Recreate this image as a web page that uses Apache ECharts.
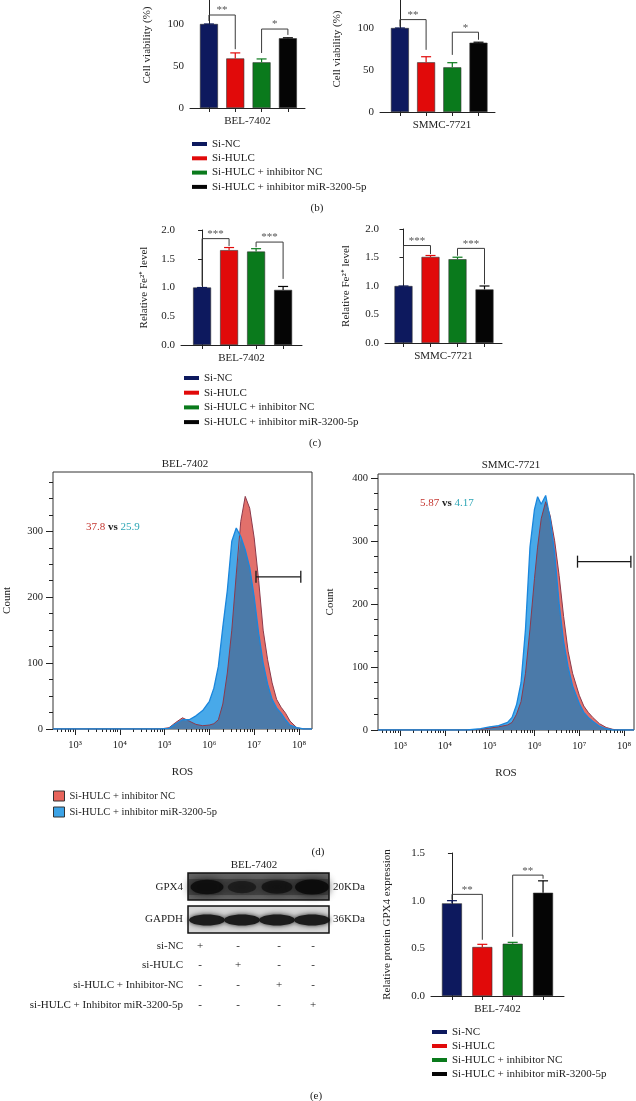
<!DOCTYPE html>
<html>
<head>
<meta charset="utf-8">
<script src="https://cdn.jsdelivr.net/npm/echarts@6/dist/echarts.min.js"></script>
<style>
html, body { margin: 0; padding: 0; background: #fff; overflow: hidden; }
#main { width: 636px; height: 1101px; }
</style>
</head>
<body>
<div id="main"></div>
<script>
var font = '"Liberation Serif", "Times New Roman", serif';
var ink = '#222';

// groups shared by the bar panels
var groups = ['Si-NC', 'Si-HULC', 'Si-HULC + inhibitor NC', 'Si-HULC + inhibitor miR-3200-5p'];
var groupColors = ['#0d195e', '#e10a0a', '#0a7a1c', '#050505'];

// (b) cell viability (%)
var viabBel = [100, 59, 54.4, 83];
var viabBelErr = [0, 6.6, 4, 0.6];
var viabSmmc = [100, 59.2, 53.2, 82.5];
var viabSmmcErr = [0, 6.6, 5.5, 0.6];
// brackets: [fromBar, toBar, leftEnd, top, rightEnd, stars]
var viabBelSig = [[0, 1, 103.6, 110.7, 70, '**'], [2, 3, 65.5, 94, 87, '*']];
var viabSmmcSig = [[0, 1, 101.5, 110, 74, '**'], [2, 3, 68, 95, 86, '*']];

// (c) relative Fe2+ level
var feBel = [1.0, 1.65, 1.625, 0.958];
var feBelErr = [0, 0.045, 0.05, 0.06];
var feSmmc = [1.0, 1.51, 1.47, 0.94];
var feSmmcErr = [0, 0.025, 0.035, 0.06];
var feBelSig = [[0, 1, 1.03, 1.85, 1.72, '***'], [2, 3, 1.7, 1.79, 1.15, '***']];
var feSmmcSig = [[0, 1, 1.04, 1.71, 1.56, '***'], [2, 3, 1.53, 1.66, 1.03, '***']];

// (d) ROS flow histograms, x = log10(ROS)
var rosLogBel = [2.51, 4.9, 5.1, 5.25, 5.4, 5.55, 5.7, 5.85, 6.0, 6.1, 6.2, 6.3, 6.4, 6.5, 6.6, 6.7, 6.8, 6.9, 7.0, 7.1, 7.2, 7.3, 7.4, 7.5, 7.6, 7.7, 7.8, 7.95, 8.1, 8.29];
var countBelNC = [0, 0, 2, 10, 17, 12, 7, 5, 6, 8, 14, 38, 85, 150, 235, 315, 353, 335, 290, 225, 150, 105, 70, 45, 33, 24, 12, 2, 0, 0];
var countBelMiR = [0, 0, 1, 8, 14, 14, 20, 28, 42, 62, 95, 155, 210, 285, 305, 292, 272, 245, 200, 145, 100, 68, 45, 32, 24, 14, 6, 2, 0, 0];
var rosLogSmmc = [2.51, 4.5, 4.8, 5.0, 5.2, 5.4, 5.5, 5.6, 5.7, 5.8, 5.9, 6.0, 6.07, 6.15, 6.25, 6.35, 6.45, 6.55, 6.65, 6.75, 6.85, 7.0, 7.1, 7.2, 7.3, 7.45, 7.6, 7.75, 7.9, 8.22];
var countSmmcNC = [0, 0, 1, 3, 5, 8, 12, 25, 45, 90, 160, 240, 290, 335, 362, 340, 300, 245, 180, 125, 90, 55, 38, 28, 20, 10, 4, 1, 0, 0];
var countSmmcMiR = [0, 0, 2, 5, 7, 12, 20, 40, 75, 160, 290, 350, 370, 358, 372, 335, 280, 200, 140, 100, 70, 42, 28, 20, 14, 6, 2, 0, 0, 0];
var gateBel = [7.04, 8.04, 231];
var gateSmmc = [6.96, 8.15, 267];
var mfiBel = ['37.8', '25.9'];
var mfiSmmc = ['5.87', '4.17'];
var rosDecades = [3, 4, 5, 6, 7, 8];
var rosTickLabels = ['10³', '10⁴', '10⁵', '10⁶', '10⁷', '10⁸'];
var countTicksBel = [0, 100, 200, 300];
var countTicksSmmc = [0, 100, 200, 300, 400];

// (e) GPX4 protein
var gpx = [0.972, 0.514, 0.548, 1.083];
var gpxErr = [0.028, 0.028, 0.015, 0.125];
var gpxSig = [[0, 1, 1.01, 1.066, 0.59, '**'], [2, 3, 0.62, 1.268, 1.23, '**']];
var gpx4Bands = [0.9, 0.45, 0.7, 1.0];
var blotRows = ['si-NC', 'si-HULC', 'si-HULC + Inhibitor-NC', 'si-HULC + Inhibitor miR-3200-5p'];
var blotSigns = [['+', '-', '-', '-'], ['-', '+', '-', '-'], ['-', '-', '+', '-'], ['-', '-', '-', '+']];

var txt = { fontFamily: font, fontSize: 11, color: ink };

function barX(gi, min, max, label, pad) {
    return {
        type: 'value', gridIndex: gi, min: min, max: max,
        axisLine: { show: true, onZero: false, lineStyle: { color: ink, width: 1 } },
        axisTick: { show: true, customValues: [0, 1, 2, 3], length: 4, lineStyle: { color: ink } },
        axisLabel: { show: false },
        splitLine: { show: false },
        name: label, nameLocation: 'middle', nameGap: 8, nameMoveOverlap: false,
        nameTextStyle: { fontFamily: font, fontSize: 11, color: ink, padding: pad || 0 }
    };
}

function barY(gi, max, interval, digits, name, gap) {
    return {
        type: 'value', gridIndex: gi, min: 0, max: max, interval: interval,
        axisLine: { show: true, lineStyle: { color: ink, width: 1 } },
        axisTick: { show: true, length: 4, lineStyle: { color: ink } },
        axisLabel: { margin: 6, fontFamily: font, fontSize: 11, color: ink,
            formatter: function (v) { return v.toFixed(digits); } },
        splitLine: { show: false },
        name: name, nameLocation: 'middle', nameRotate: 90, nameGap: gap, nameMoveOverlap: false,
        nameTextStyle: txt
    };
}

function minorLogTicks(min, max) {
    var out = [];
    for (var d = 2; d <= 8; d++) {
        for (var k = 2; k <= 9; k++) {
            var v = d + Math.log10(k);
            if (v > min && v < max) out.push(v);
        }
    }
    return out;
}

function minorCountTicks(max) {
    var out = [];
    for (var v = 25; v < max; v += 25) if (v % 100) out.push(v);
    return out;
}

function flowX(gi, min, max) {
    return {
        type: 'value', gridIndex: gi, min: min, max: max, position: 'bottom',
        axisLine: { show: false },
        axisTick: { show: true, customValues: rosDecades, length: 6, lineStyle: { color: ink } },
        axisLabel: { customValues: rosDecades, margin: 11, fontFamily: font, fontSize: 10.5, color: ink,
            formatter: function (v) { return rosTickLabels[Math.round(v) - 3]; } },
        splitLine: { show: false },
        name: 'ROS', nameLocation: 'middle', nameGap: 38, nameMoveOverlap: false, nameTextStyle: txt
    };
}

function flowXMinor(gi, min, max) {
    return {
        type: 'value', gridIndex: gi, min: min, max: max, position: 'bottom',
        axisLine: { show: false }, axisLabel: { show: false }, splitLine: { show: false },
        axisTick: { show: true, customValues: minorLogTicks(min, max), length: 3, lineStyle: { color: ink } }
    };
}

function flowY(gi, max, ticks, gap) {
    return {
        type: 'value', gridIndex: gi, min: 0, max: max, position: 'left',
        axisLine: { show: false },
        axisTick: { show: true, customValues: ticks, length: 7, lineStyle: { color: ink } },
        axisLabel: { customValues: ticks, margin: 10, fontFamily: font, fontSize: 10.5, color: ink },
        splitLine: { show: false },
        name: 'Count', nameLocation: 'middle', nameRotate: 90, nameGap: gap, nameMoveOverlap: false,
        nameTextStyle: txt
    };
}

function flowYMinor(gi, max) {
    return {
        type: 'value', gridIndex: gi, min: 0, max: max, position: 'left',
        axisLine: { show: false }, axisLabel: { show: false }, splitLine: { show: false },
        axisTick: { show: true, customValues: minorCountTicks(max), length: 4, lineStyle: { color: ink } }
    };
}

function barSeries(gi, vals, width) {
    return groups.map(function (g, i) {
        return {
            name: g, type: 'bar', xAxisIndex: gi, yAxisIndex: gi,
            barWidth: width, barGap: '-100%', silent: true,
            itemStyle: { color: groupColors[i], borderColor: '#333', borderWidth: 0.6 },
            data: [[i, vals[i]]]
        };
    });
}

function errSeries(gi, vals, errs, capW) {
    return {
        type: 'custom', xAxisIndex: gi, yAxisIndex: gi, silent: true, z: 3,
        data: vals.map(function (v, i) { return [i, v, errs[i]]; }),
        renderItem: function (params, api) {
            var i = api.value(0), v = api.value(1), e = api.value(2);
            var base = api.coord([i, v]), top = api.coord([i, v + e]);
            var c = groupColors[params.dataIndex];
            return {
                type: 'group', children: [
                    { type: 'line', shape: { x1: base[0], y1: base[1], x2: top[0], y2: top[1] }, style: { stroke: c, lineWidth: 1.2 } },
                    { type: 'line', shape: { x1: top[0] - capW / 2, y1: top[1], x2: top[0] + capW / 2, y2: top[1] }, style: { stroke: c, lineWidth: 1.2 } }
                ]
            };
        }
    };
}

function sigSeries(gi, sig) {
    return {
        type: 'custom', xAxisIndex: gi, yAxisIndex: gi, silent: true, z: 4,
        data: sig.map(function (s) { return s.slice(0, 5); }),
        renderItem: function (params, api) {
            var s = sig[params.dataIndex];
            var a = api.coord([s[0], s[2]]), b = api.coord([s[0], s[3]]);
            var c = api.coord([s[1], s[3]]), d = api.coord([s[1], s[4]]);
            return {
                type: 'group', children: [
                    { type: 'polyline', shape: { points: [a, b, c, d] }, style: { stroke: '#3a3a3a', lineWidth: 1, fill: null } },
                    { type: 'text', x: (b[0] + c[0]) / 2, y: b[1] + 1,
                      style: { text: s[5], fill: '#555', fontSize: 11, fontFamily: font, align: 'center', verticalAlign: 'bottom' } }
                ]
            };
        }
    };
}

function flowSeries(gi, xs, nc, mir) {
    function pts(ys) { return xs.map(function (x, i) { return [x, ys[i]]; }); }
    var both = nc.map(function (v, i) { return Math.min(v, mir[i]); });
    var base = { type: 'line', xAxisIndex: gi, yAxisIndex: gi, showSymbol: false, symbol: 'none', silent: true };
    return [
        Object.assign({ name: groups[2], data: pts(nc), z: 2, lineStyle: { width: 0 },
            itemStyle: { color: '#e2706b' }, areaStyle: { color: '#e2706b', opacity: 1 } }, base),
        Object.assign({ name: groups[3], data: pts(mir), z: 3, lineStyle: { width: 0 },
            itemStyle: { color: '#48a9e9' }, areaStyle: { color: '#48a9e9', opacity: 1 } }, base),
        Object.assign({ name: 'overlap', data: pts(both), z: 4, lineStyle: { width: 0 },
            itemStyle: { color: '#4b7aa9' }, areaStyle: { color: '#4b7aa9', opacity: 1 } }, base),
        Object.assign({ name: 'edgeNC', data: pts(nc), z: 5, lineStyle: { color: '#8b3a4c', width: 1 } }, base),
        Object.assign({ name: 'edgeMiR', data: pts(mir), z: 6, lineStyle: { color: '#1a86dc', width: 1.3 } }, base)
    ];
}

function gateSeries(gi, gate) {
    return {
        type: 'custom', xAxisIndex: gi, yAxisIndex: gi, silent: true, z: 8,
        data: [gate],
        renderItem: function (params, api) {
            var a = api.coord([api.value(0), api.value(2)]);
            var b = api.coord([api.value(1), api.value(2)]);
            var st = { stroke: '#1a1a1a', lineWidth: 1.3 };
            return {
                type: 'group', children: [
                    { type: 'line', shape: { x1: a[0], y1: a[1], x2: b[0], y2: b[1] }, style: st },
                    { type: 'line', shape: { x1: a[0], y1: a[1] - 6, x2: a[0], y2: a[1] + 6 }, style: st },
                    { type: 'line', shape: { x1: b[0], y1: b[1] - 6, x2: b[0], y2: b[1] + 6 }, style: st }
                ]
            };
        }
    };
}

function barLegend(left, top, gap) {
    return {
        left: left, top: top, orient: 'vertical', padding: 0, itemGap: gap,
        itemWidth: 15, itemHeight: 4, icon: 'rect', selectedMode: false,
        data: groups.map(function (g, i) {
            return { name: g, icon: 'rect', itemStyle: { color: groupColors[i], borderWidth: 0 } };
        }),
        textStyle: { fontFamily: font, fontSize: 11, color: ink, lineHeight: 14 }
    };
}

function label(x, y, text, align) {
    return { type: 'text', x: x, y: y, silent: true,
        style: { text: text, fill: ink, fontSize: 11, fontFamily: font, align: align || 'center', verticalAlign: 'middle' } };
}

function mfiLabel(x, y, pair) {
    var r = { fontSize: 11, fontFamily: font };
    return { type: 'text', x: x, y: y, silent: true,
        style: { text: '{r|' + pair[0] + '} {k|vs} {t|' + pair[1] + '}', fontSize: 11, fontFamily: font, verticalAlign: 'middle',
            rich: {
                r: Object.assign({ fill: '#c4352f' }, r),
                k: Object.assign({ fill: '#222', fontWeight: 'bold' }, r),
                t: Object.assign({ fill: '#2ea6b6' }, r)
            } } };
}

// western blot drawing and its labels
var graphicEls = [];
graphicEls.push(label(317, 208, '(b)'), label(315, 443, '(c)'), label(318, 852, '(d)'), label(316, 1096, '(e)'));
graphicEls.push(label(185, 464, 'BEL-7402'), label(511, 465, 'SMMC-7721'));
graphicEls.push(mfiLabel(86, 527, mfiBel), mfiLabel(420, 503, mfiSmmc));
graphicEls.push(label(254, 865, 'BEL-7402'));
graphicEls.push({ type: 'rect', shape: { x: 188, y: 873, width: 141, height: 27 }, style: { fill: '#666' }, silent: true });
graphicEls.push({ type: 'rect', shape: { x: 188, y: 906, width: 141, height: 27 }, style: { fill: '#d6d6d6' }, silent: true });
graphicEls.push({ type: 'rect', shape: { x: 189, y: 879, width: 139, height: 16 }, silent: true,
    style: { fill: 'rgba(40,40,40,0.45)', shadowBlur: 8, shadowColor: 'rgba(40,40,40,0.6)' } });
gpx4Bands.forEach(function (b, i) {
    var cx = 207 + 35 * i;
    graphicEls.push({ type: 'ellipse', silent: true,
        shape: { cx: cx, cy: 887, rx: 12 + 5 * b, ry: 5 + 2.5 * b },
        style: { fill: 'rgba(12,12,12,' + (0.3 + 0.65 * b).toFixed(2) + ')', shadowBlur: 9, shadowColor: 'rgba(12,12,12,' + (0.4 + 0.5 * b).toFixed(2) + ')' } });
    graphicEls.push({ type: 'ellipse', silent: true,
        shape: { cx: cx, cy: 920, rx: 18, ry: 5.5 },
        style: { fill: '#1c1c1c', shadowBlur: 5, shadowColor: 'rgba(20,20,20,0.9)' } });
});
graphicEls.push({ type: 'rect', shape: { x: 188, y: 873, width: 141, height: 27 }, style: { fill: null, stroke: '#111', lineWidth: 1.5 }, silent: true });
graphicEls.push({ type: 'rect', shape: { x: 188, y: 906, width: 141, height: 27 }, style: { fill: null, stroke: '#111', lineWidth: 1.5 }, silent: true });
graphicEls.push(label(183, 887, 'GPX4', 'right'), label(183, 919, 'GAPDH', 'right'));
graphicEls.push(label(333, 887, '20KDa', 'left'), label(333, 919, '36KDa', 'left'));
blotRows.forEach(function (row, r) {
    var y = 946 + 19.6 * r;
    graphicEls.push(label(183, y, row, 'right'));
    blotSigns[r].forEach(function (s, c) {
        graphicEls.push(label([200, 238, 279, 313][c], y, s));
    });
});

var grids = [
    { left: 190, top: -18, width: 115, height: 126 },
    { left: 380, top: -14, width: 115, height: 126 },
    { left: 181, top: 230, width: 121, height: 115 },
    { left: 385, top: 229, width: 117, height: 114 },
    { left: 53, top: 472, width: 259, height: 257, show: true, borderColor: '#333', borderWidth: 1 },
    { left: 378, top: 474, width: 256, height: 256, show: true, borderColor: '#333', borderWidth: 1 },
    { left: 431, top: 853, width: 133, height: 143 }
].map(function (g) { return Object.assign({ containLabel: false, outerBoundsMode: 'none' }, g); });

var xAxes = [
    barX(0, -0.72, 3.65, 'BEL-7402'),
    barX(1, -0.76, 3.63, 'SMMC-7721', [0, 0, 0, 9]),
    barX(2, -0.78, 3.70, 'BEL-7402'),
    barX(3, -0.685, 3.648, 'SMMC-7721'),
    flowX(4, 2.51, 8.29),
    flowX(5, 2.51, 8.22),
    barX(6, -0.69, 3.69, 'BEL-7402'),
    flowXMinor(4, 2.51, 8.29),
    flowXMinor(5, 2.51, 8.22)
];

var yAxes = [
    barY(0, 150, 50, 0, 'Cell viability (%)', 37),
    barY(1, 150, 50, 0, 'Cell viability (%)', 37),
    barY(2, 2, 0.5, 1, 'Relative Fe²⁺ level', 31),
    barY(3, 2, 0.5, 1, 'Relative Fe²⁺ level', 33),
    flowY(4, 390, countTicksBel, 40),
    flowY(5, 406, countTicksSmmc, 42),
    barY(6, 1.5, 0.5, 1, 'Relative protein GPX4 expression', 38),
    flowYMinor(4, 390),
    flowYMinor(5, 406)
];

var series = [];
[
    [0, viabBel, viabBelErr, viabBelSig, 18],
    [1, viabSmmc, viabSmmcErr, viabSmmcSig, 18],
    [2, feBel, feBelErr, feBelSig, 18],
    [3, feSmmc, feSmmcErr, feSmmcSig, 18],
    [6, gpx, gpxErr, gpxSig, 20]
].forEach(function (p) {
    series = series.concat(barSeries(p[0], p[1], p[4]));
    series.push(errSeries(p[0], p[1], p[2], 10));
    series.push(sigSeries(p[0], p[3]));
});
series = series.concat(flowSeries(4, rosLogBel, countBelNC, countBelMiR));
series.push(gateSeries(4, gateBel));
series = series.concat(flowSeries(5, rosLogSmmc, countSmmcNC, countSmmcMiR));
series.push(gateSeries(5, gateSmmc));

var chart = echarts.init(document.getElementById('main'));
chart.setOption({
    animation: false,
    backgroundColor: '#fff',
    grid: grids,
    xAxis: xAxes,
    yAxis: yAxes,
    legend: [
        barLegend(192, 137, 0.3),
        barLegend(184, 371, 0.7),
        barLegend(432, 1025, 0),
        {
            left: 53, top: 789, orient: 'vertical', padding: 0, itemGap: 2,
            itemWidth: 11, itemHeight: 10, icon: 'rect', selectedMode: false,
            data: [
                { name: groups[2], icon: 'rect', itemStyle: { color: '#e8655c', borderColor: '#333', borderWidth: 1 } },
                { name: groups[3], icon: 'rect', itemStyle: { color: '#3ca3e6', borderColor: '#333', borderWidth: 1 } }
            ],
            textStyle: { fontFamily: font, fontSize: 10.5, color: ink, lineHeight: 14 }
        }
    ],
    graphic: { elements: graphicEls },
    series: series
});
</script>
</body>
</html>
